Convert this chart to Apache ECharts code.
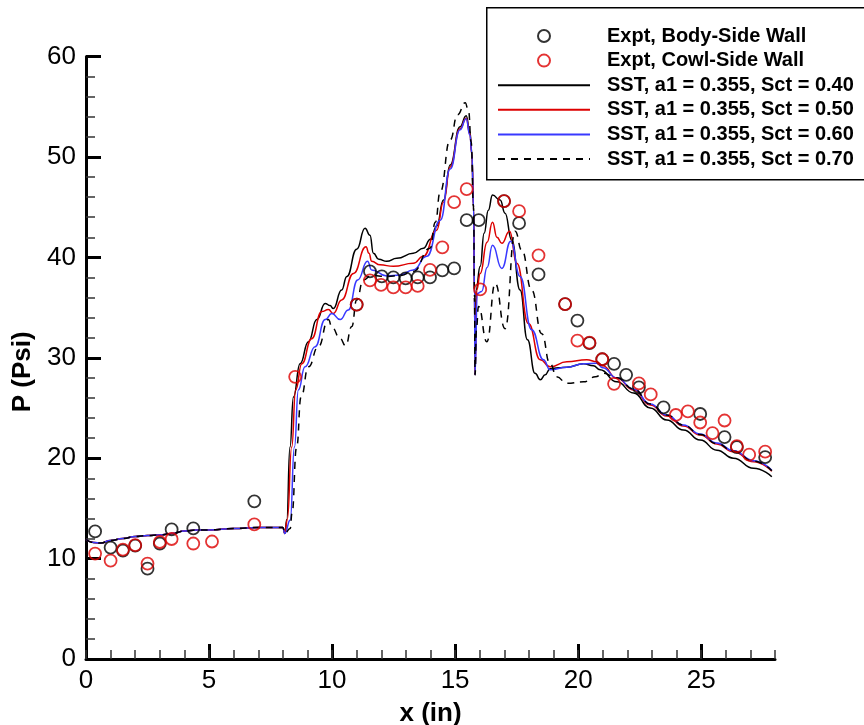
<!doctype html>
<html lang="en">
<head>
    <meta charset="utf-8">
    <title>P vs x</title>
    <script src="https://cdn.jsdelivr.net/npm/echarts@6/dist/echarts.min.js"></script>
    <style>
        *{margin:0;padding:0}
        html,body{width:100%;height:100%;background:#fff}
        #main{width:864px;height:725px}
    </style>
</head>
<body>
<div id="main"></div>
<script type="text/javascript">
    // experiment points [x (in), P (psi)]
    var bodySide = [
        [0.37,12.7],[1.0,11.1],[1.5,10.8],[2.0,11.3],[2.5,9.0],[3.0,11.5],[3.48,12.9],[4.36,13.0],
        [6.84,15.7],[11.0,35.3],[11.54,38.6],[12.02,38.1],[12.49,38.0],[12.99,37.9],[13.48,38.0],
        [13.98,38.0],[14.48,38.7],[14.96,38.9],[15.47,43.7],[15.96,43.7],[16.99,45.6],[17.6,43.4],
        [18.39,38.3],[19.47,35.35],[19.97,33.7],[20.46,31.45],[20.98,29.85],[21.46,29.4],[21.95,28.3],
        [22.47,27.05],[23.47,25.05],[24.96,24.4],[25.95,22.1],[26.45,21.1],[27.6,20.1]
    ];
    var cowlSide = [
        [0.37,10.5],[1.0,9.8],[1.5,10.9],[2.0,11.35],[2.5,9.5],[3.0,11.65],[3.48,11.95],[4.36,11.5],
        [5.12,11.7],[6.84,13.4],[8.5,28.1],[11.0,35.3],[11.54,37.7],[11.99,37.25],[12.49,37.0],
        [12.99,37.0],[13.48,37.15],[13.98,38.75],[14.48,41.0],[14.96,45.5],[15.47,46.8],[16.02,36.8],
        [16.99,45.6],[17.6,44.6],[18.39,40.2],[19.47,35.35],[19.97,31.7],[20.46,31.5],[20.98,29.85],
        [21.46,27.4],[22.47,27.45],[22.95,26.35],[23.97,24.3],[24.46,24.65],[24.96,23.55],[25.46,22.5],
        [25.95,23.75],[26.45,21.2],[26.95,20.35],[27.6,20.65]
    ];

    // inlet part, all four runs lie on top of each other
    var inlet = [
        [0,11.9],[0.3,11.6],[0.6,11.55],[1,11.8],[1.5,12.0],[2,12.2],[2.5,12.3],[3,12.35],[3.5,12.5],
        [4,12.75],[4.5,12.85],[5,12.85],[6,13.0],[7,13.1],[8,13.1],[8.08,12.5]
    ];

    var sct40 = [
        [8.16,13.9],[8.29,21.1],[8.43,26.1],[8.7,29.4],[9.04,31.6],[9.38,33.8],[9.72,35.4],[9.92,35.2],
        [10.05,34.9],[10.39,36.75],[10.6,38.1],[11.0,40.8],[11.34,42.9],[11.54,42.2],[11.68,40.4],
        [11.9,39.8],[12.22,39.6],[12.63,39.9],[13.3,40.4],[13.71,40.9],[14.0,41.8],[14.25,43.1],
        [14.53,45.7],[14.8,49.2],[15.2,53.0],[15.45,54.1],[15.6,52.5],[15.68,50.5],[15.75,45],
        [15.79,36],[15.81,28.3],[15.85,36.75],[16.02,39.1],[16.18,42.4],[16.35,44.7],[16.52,46.2],
        [16.83,45.7],[17.03,44.4],[17.3,41.7],[17.64,36.75],[17.94,31.8],[18.25,28.45],[18.46,27.8],
        [18.66,28.3],[18.86,28.9],[19.2,29.0],[19.54,29.05],[20.22,29.4],[20.62,29.2],[20.89,28.8],
        [21.57,27.6],[22.25,26.5],[22.93,25.0],[23.6,23.8],[24.28,22.8],[24.96,21.8],[25.64,20.8],
        [26.31,20.0],[27.13,19.0],[27.87,18.15]
    ];
    var sct50 = [
        [8.18,13.9],[8.36,21.1],[8.52,26.8],[8.77,29.4],[9.17,31.9],[9.58,34.6],[9.85,34.8],[10.05,34.4],
        [10.39,35.75],[10.87,38.4],[11.38,41.05],[11.5,40.4],[11.61,39.6],[11.95,39.25],[12.49,39.1],
        [13.3,39.4],[13.71,40.1],[14.25,42.7],[14.53,45.5],[14.8,49.0],[15.2,52.8],[15.45,53.85],
        [15.6,52.3],[15.68,50.3],[15.75,45],[15.79,36],[15.81,28.3],[15.88,36.75],[16.02,38.4],
        [16.3,41.5],[16.52,43.5],[16.7,42.0],[16.9,41.4],[17.21,42.6],[17.51,39.4],[17.98,33.4],
        [18.46,29.8],[18.86,29.1],[19.54,29.6],[20.35,29.8],[20.76,29.6],[21.0,29.2],[21.57,27.95],
        [22.25,26.8],[22.93,25.3],[23.6,24.2],[24.28,23.2],[24.96,22.3],[25.64,21.4],[26.31,20.65],
        [27.13,19.65],[27.87,18.7]
    ];
    var sct60 = [
        [8.3,13.85],[8.47,21.1],[8.63,26.8],[8.9,29.1],[9.31,31.1],[9.72,33.8],[9.99,34.4],[10.33,33.8],
        [10.66,34.75],[11.04,37.75],[11.44,39.6],[11.61,38.75],[12.22,38.15],[12.76,38.25],[13.3,38.75],
        [13.85,40.1],[14.4,43.7],[14.8,48.8],[15.2,52.7],[15.45,53.8],[15.6,52.2],[15.68,50.3],
        [15.75,45],[15.79,36],[15.81,28.3],[15.9,36.4],[16.08,36.6],[16.3,39.0],[16.52,41.2],
        [16.9,38.9],[17.26,41.6],[17.64,38.1],[18.11,32.8],[18.59,29.8],[18.86,28.8],[19.54,29.05],
        [20.22,29.4],[20.76,29.45],[21.0,29.0],[21.57,28.0],[22.25,26.9],[22.93,25.4],[23.6,24.3],
        [24.28,23.3],[24.96,22.4],[25.64,21.5],[26.31,20.75],[27.13,19.75],[27.87,18.8]
    ];
    var sct70 = [
        [8.3,13.0],[8.37,14.5],[8.56,21.1],[8.74,26.1],[9.04,29.1],[9.44,31.1],[9.85,33.8],[10.0,33.0],
        [10.33,31.9],[10.55,31.2],[10.8,33.1],[11.0,35.75],[11.27,37.75],[11.6,38.2],[12.2,38.1],
        [12.8,38.2],[13.3,38.6],[13.98,40.9],[14.2,43.5],[14.39,46.5],[14.8,51.7],[15.1,54.2],
        [15.41,55.4],[15.55,54.5],[15.65,51.5],[15.75,45],[15.79,36],[15.81,28.3],[15.87,33],
        [15.95,35.1],[16.29,31.6],[16.63,37.4],[17.03,32.9],[17.44,42.6],[17.71,40.7],[18.11,36.75],
        [18.52,32.4],[18.86,29.4],[19.13,28.1],[19.54,27.45],[20.22,27.6],[20.7,28.1],[21.03,28.45],
        [21.57,28.0],[22.25,26.9],[22.93,25.4],[23.6,24.3],[24.28,23.3],[24.96,22.35],[25.64,21.45],
        [26.31,20.7],[27.13,19.7],[27.87,18.75]
    ];

    var names = [
        'Expt, Body-Side Wall',
        'Expt, Cowl-Side Wall',
        'SST, a1 = 0.355, Sct = 0.40',
        'SST, a1 = 0.355, Sct = 0.50',
        'SST, a1 = 0.355, Sct = 0.60',
        'SST, a1 = 0.355, Sct = 0.70'
    ];
    var majorX = [0, 5, 10, 15, 20, 25];

    var font = 'Liberation Sans, Arial, Helvetica, sans-serif';
    var red = '#dd0000';
    var blue = '#3838ff';

    function scatter(name, data, color) {
        return {
            name: name,
            type: 'scatter',
            data: data,
            symbol: 'circle',
            symbolSize: 12,
            z: 3,
            itemStyle: {color: 'transparent', borderColor: color, borderWidth: 1.8}
        };
    }
    function line(name, data, color, dashed) {
        return {
            name: name,
            type: 'line',
            data: inlet.concat(data),
            symbol: 'none',
            smooth: 0.5,
            smoothMonotone: 'x',
            z: 2,
            // opacity 0 only hides the dot that the legend icon puts on the line
            itemStyle: {color: color, opacity: 0},
            lineStyle: {color: color, width: 1.5, type: dashed ? [7, 6] : 'solid'}
        };
    }

    var myChart = echarts.init(document.getElementById('main'));
    var option = {
        animation: false,
        grid: {left: 86, right: 89, top: 56.5, bottom: 66, outerBoundsMode: 'none'},
        legend: {
            orient: 'vertical',
            left: 497,
            top: 26,
            itemWidth: 92,
            itemHeight: 12,
            itemGap: 4.6,
            padding: 0,
            selectedMode: false,
            textStyle: {fontSize: 20, fontWeight: 'bold', color: '#000', fontFamily: font,
                lineHeight: 20, padding: [0, 0, 0, 12]},
            data: names
        },
        graphic: [{
            type: 'rect',
            left: 486, top: 7, z: 0,
            shape: {width: 420, height: 172},
            style: {fill: '#fff', stroke: '#000', lineWidth: 1.5}
        }],
        xAxis: [{
            type: 'value',
            min: 0, max: 28,
            interval: 5,
            name: 'x (in)',
            nameLocation: 'middle',
            nameGap: 42,
            nameTextStyle: {fontSize: 26, fontWeight: 'bold', color: '#000', fontFamily: font},
            axisLine: {lineStyle: {color: '#000', width: 3}},
            axisTick: {inside: true, length: 15, lineStyle: {color: '#000', width: 3}, customValues: majorX},
            axisLabel: {fontSize: 26, color: '#000', fontFamily: font, margin: 9, customValues: majorX},
            splitLine: {show: false}
        }, {
            type: 'value',
            min: 0, max: 28,
            interval: 1,
            position: 'bottom',
            axisLine: {show: false},
            axisTick: {inside: true, length: 9, lineStyle: {color: '#333', width: 1.5}},
            axisLabel: {show: false},
            splitLine: {show: false}
        }],
        yAxis: {
            type: 'value',
            min: 0, max: 60,
            interval: 10,
            name: 'P (Psi)',
            nameLocation: 'middle',
            nameGap: 42,
            nameTextStyle: {fontSize: 26, fontWeight: 'bold', color: '#000', fontFamily: font,
                padding: [0, 28, 0, 0]},
            axisLine: {show: true, lineStyle: {color: '#000', width: 3}},
            axisTick: {show: true, inside: true, length: 15, lineStyle: {color: '#000', width: 3}},
            minorTick: {show: true, splitNumber: 5, length: 9, lineStyle: {color: '#333', width: 1.5}},
            axisLabel: {fontSize: 26, color: '#000', fontFamily: font, margin: 10},
            splitLine: {show: false}
        },
        series: [
            scatter(names[0], bodySide, '#000'),
            scatter(names[1], cowlSide, red),
            line(names[2], sct40, '#000', false),
            line(names[3], sct50, red, false),
            line(names[4], sct60, blue, false),
            line(names[5], sct70, '#000', true)
        ]
    };
    myChart.setOption(option);
</script>
</body>
</html>
